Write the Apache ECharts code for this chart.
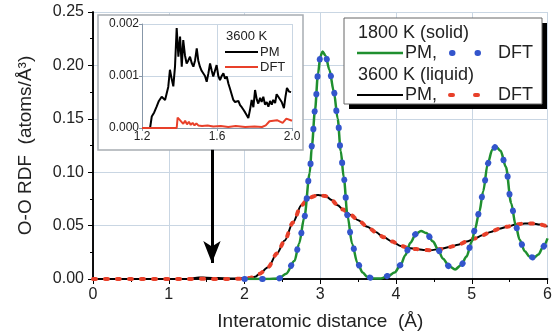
<!DOCTYPE html>
<html><head><meta charset="utf-8">
<script src="https://cdn.jsdelivr.net/npm/echarts@6/dist/echarts.min.js"></script>
<style>html,body{margin:0;padding:0;background:#fff}#c{width:555px;height:336px}</style>
</head><body><div id="c"></div>
<script>
// ---- main chart: 1800 K solid ----
const solidX   = [2.0, 2.3, 2.45, 2.55, 2.66, 2.72, 2.79, 2.86, 2.89, 2.93, 2.97, 3.0, 3.03, 3.07, 3.12, 3.18, 3.23, 3.27, 3.31, 3.36, 3.42, 3.49, 3.56, 3.62, 3.7, 3.8, 3.9, 3.98, 4.06, 4.12, 4.19, 4.26, 4.33, 4.4, 4.49, 4.55, 4.62, 4.7, 4.78, 4.86, 4.93, 5.0, 5.04, 5.1, 5.15, 5.21, 5.27, 5.32, 5.38, 5.45, 5.52, 5.58, 5.63, 5.7, 5.76, 5.82, 5.88, 5.94, 6.0];
const solidPM  = [0, 0, 0.0005, 0.005, 0.017, 0.033, 0.058, 0.099, 0.125, 0.158, 0.192, 0.208, 0.213, 0.209, 0.196, 0.175, 0.150, 0.120, 0.095, 0.059, 0.033, 0.015, 0.006, 0.002, 0.0005, 0.0005, 0.003, 0.006, 0.013, 0.022, 0.034, 0.042, 0.045, 0.043, 0.035, 0.028, 0.019, 0.012, 0.009, 0.013, 0.021, 0.035, 0.046, 0.063, 0.082, 0.108, 0.121, 0.124, 0.120, 0.105, 0.071, 0.050, 0.037, 0.026, 0.021, 0.020, 0.023, 0.030, 0.038];
const solidDFT = [0, 0, 0.0005, 0.005, 0.017, 0.033, 0.058, 0.099, 0.125, 0.158, 0.192, 0.208, 0.213, 0.209, 0.196, 0.175, 0.150, 0.120, 0.095, 0.059, 0.033, 0.015, 0.006, 0.002, 0.0005, 0.0005, 0.003, 0.006, 0.013, 0.022, 0.034, 0.042, 0.045, 0.043, 0.035, 0.028, 0.019, 0.012, 0.009, 0.013, 0.021, 0.035, 0.046, 0.063, 0.082, 0.108, 0.121, 0.124, 0.120, 0.105, 0.071, 0.050, 0.037, 0.026, 0.021, 0.020, 0.023, 0.030, 0.038];
// ---- main chart: 3600 K liquid ----
const liquidX   = [0, 1.25, 1.4, 1.5, 1.65, 1.8, 1.95, 2.05, 2.14, 2.2, 2.31, 2.43, 2.53, 2.64, 2.75, 2.85, 2.97, 3.07, 3.15, 3.23, 3.3, 3.4, 3.5, 3.62, 3.73, 3.84, 3.95, 4.06, 4.17, 4.27, 4.36, 4.45, 4.58, 4.71, 4.82, 4.93, 5.04, 5.14, 5.25, 5.36, 5.47, 5.58, 5.7, 5.8, 5.9, 6.0];
const liquidPM  = [0, 0, 0.0015, 0.0012, 0.0009, 0.0004, 0.0006, 0.001, 0.002, 0.005, 0.011, 0.024, 0.036, 0.053, 0.069, 0.076, 0.0786, 0.0776, 0.074, 0.069, 0.065, 0.060, 0.055, 0.049, 0.044, 0.039, 0.035, 0.031, 0.029, 0.028, 0.0272, 0.027, 0.028, 0.030, 0.032, 0.035, 0.038, 0.041, 0.044, 0.047, 0.049, 0.051, 0.052, 0.052, 0.051, 0.049];
const liquidDFT = [0, 0, 0.0002, 0.0001, 0.0001, 0.0001, 0.0002, 0.0008, 0.002, 0.005, 0.011, 0.024, 0.036, 0.053, 0.069, 0.076, 0.0786, 0.0776, 0.074, 0.069, 0.065, 0.060, 0.055, 0.049, 0.044, 0.039, 0.035, 0.031, 0.029, 0.028, 0.0272, 0.027, 0.028, 0.030, 0.032, 0.035, 0.038, 0.041, 0.044, 0.047, 0.049, 0.051, 0.052, 0.052, 0.051, 0.049];
// ---- inset: 3600 K, 1.2 - 2.0 A ----
const insetX  = [1.2, 1.243, 1.252, 1.265, 1.278, 1.29, 1.305, 1.323, 1.34, 1.349, 1.358, 1.367, 1.376, 1.385, 1.394, 1.403, 1.412, 1.42, 1.429, 1.438, 1.447, 1.456, 1.465, 1.474, 1.483, 1.492, 1.5, 1.509, 1.518, 1.527, 1.536, 1.545, 1.554, 1.563, 1.572, 1.58, 1.589, 1.598, 1.607, 1.616, 1.625, 1.634, 1.643, 1.652, 1.661, 1.669, 1.678, 1.687, 1.696, 1.705, 1.714, 1.723, 1.732, 1.741, 1.75, 1.758, 1.767, 1.776, 1.785, 1.794, 1.803, 1.812, 1.82, 1.83, 1.838, 1.847, 1.856, 1.865, 1.874, 1.883, 1.892, 1.9, 1.91, 1.918, 1.927, 1.936, 1.945, 1.957, 1.965, 1.973, 1.984, 1.995];
const insetPM = [0, 0, 0.00022, 0.0003, 0.00041, 0.00052, 0.0006, 0.00054, 0.00079, 0.00112, 0.00095, 0.0008, 0.00118, 0.00192, 0.00137, 0.00176, 0.00118, 0.00169, 0.0014, 0.00124, 0.0013, 0.00137, 0.00125, 0.00118, 0.0013, 0.00153, 0.0013, 0.00118, 0.0011, 0.00112, 0.001, 0.00089, 0.00105, 0.00124, 0.0011, 0.00099, 0.0011, 0.00121, 0.001, 0.00092, 0.001, 0.00105, 0.00095, 0.00099, 0.00085, 0.00076, 0.00065, 0.00054, 0.0005, 0.00047, 0.00052, 0.00044, 0.0004, 0.00035, 0.0003, 0.00025, 0.00019, 0.00035, 0.00054, 0.0004, 0.00073, 0.00055, 0.00047, 0.00058, 0.0005, 0.0006, 0.00045, 0.0005, 0.00041, 0.00052, 0.00045, 0.00054, 0.00048, 0.00065, 0.0006, 0.00063, 0.0005, 0.00038, 0.0006, 0.00077, 0.0007, 0.00069];
const insetDftX = [1.2, 1.385, 1.39, 1.40, 1.41, 1.42, 1.43, 1.44, 1.45, 1.46, 1.47, 1.48, 1.49, 1.50, 1.52, 1.55, 1.58, 1.62, 1.66, 1.70, 1.75, 1.80, 1.84, 1.86, 1.88, 1.92, 1.95, 1.97, 2.0];
const insetDFT  = [0, 0, 0.0002, 0.00016, 0.00017, 0.00008, 0.00014, 0.00007, 0.00012, 0.00006, 0.0001, 0.00005, 0.00009, 0.00005, 0.00004, 0.00005, 0.00003, 0.00004, 0.00002, 0.00004, 0.00002, 0.00003, 0.00002, 0.00005, 0.00013, 0.00015, 0.0001, 0.00018, 0.00014];
// arrow annotation (data coordinates)
const arrowX = 1.57, arrowFrom = 0.121, arrowTo = 0.015;

const zip = (xs, ys) => xs.map((x, i) => [x, ys[i]]);
const FF = 'Liberation Sans, Arial, sans-serif';
const gridCol = '#c9d6e3';

const chart = echarts.init(document.getElementById('c'));
chart.setOption({
  animation: false,
  backgroundColor: '#fff',
  grid: [
    {left: 93, right: 3, top: 12, bottom: 57},
    {left: 142, top: 24, width: 150, height: 104}
  ],
  xAxis: [
    {gridIndex: 0, type: 'value', min: 0, max: 6, interval: 1, position: 'bottom',
     axisLine: {lineStyle: {color: '#000', width: 1.5}},
     axisTick: {show: true, inside: false, length: 5, lineStyle: {color: '#000'}},
     minorTick: {show: true, splitNumber: 2, length: 3, lineStyle: {color: '#000'}},
     splitLine: {show: true, lineStyle: {color: gridCol, width: 1}},
     axisLabel: {fontSize: 16, color: '#222', fontFamily: FF, margin: 8},
     name: 'Interatomic distance  (\u00C5)', nameLocation: 'middle', nameGap: 33,
     nameTextStyle: {fontSize: 19, color: '#222', fontFamily: FF}},
    {gridIndex: 0, type: 'value', min: 0, max: 6, interval: 1, position: 'top',
     axisLine: {lineStyle: {color: '#000', width: 1.5}},
     axisTick: {show: true, inside: true, length: 4, lineStyle: {color: '#000'}},
     minorTick: {show: true, splitNumber: 2, length: 2, lineStyle: {color: '#000'}},
     splitLine: {show: false}, axisLabel: {show: false}},
    {gridIndex: 1, type: 'value', min: 1.2, max: 2.0, interval: 0.4, z: 5,
     axisLine: {lineStyle: {color: '#8797a8', width: 1}},
     axisTick: {show: true, length: 3, lineStyle: {color: '#8797a8'}},
     splitLine: {show: true, lineStyle: {color: gridCol, width: 1}},
     axisLabel: {fontSize: 12, color: '#222', fontFamily: FF, margin: 3,
                 formatter: v => v.toFixed(1)}}
  ],
  yAxis: [
    {gridIndex: 0, type: 'value', min: 0, max: 0.25, interval: 0.05, position: 'left',
     axisLine: {show: true, lineStyle: {color: '#000', width: 1.5}},
     axisTick: {show: true, inside: false, length: 5, lineStyle: {color: '#000'}},
     minorTick: {show: true, splitNumber: 2, length: 3, lineStyle: {color: '#000'}},
     splitLine: {show: true, lineStyle: {color: gridCol, width: 1}},
     axisLabel: {fontSize: 16, color: '#222', fontFamily: FF, margin: 9,
                 formatter: v => v.toFixed(2)},
     name: 'O-O RDF  (atoms/\u00C5\u00B3)', nameLocation: 'middle', nameGap: 58,
     nameTextStyle: {fontSize: 19, color: '#222', fontFamily: FF}},
    {gridIndex: 0, type: 'value', min: 0, max: 0.25, interval: 0.05, position: 'right',
     axisLine: {show: true, lineStyle: {color: '#000', width: 1.5}},
     axisTick: {show: true, inside: true, length: 4, lineStyle: {color: '#000'}},
     minorTick: {show: true, splitNumber: 2, length: 2, lineStyle: {color: '#000'}},
     splitLine: {show: false}, axisLabel: {show: false}},
    {gridIndex: 1, type: 'value', min: 0, max: 0.002, interval: 0.001, z: 5,
     axisLine: {show: true, lineStyle: {color: '#8797a8', width: 1}},
     axisTick: {show: true, length: 3, lineStyle: {color: '#8797a8'}},
     splitLine: {show: true, lineStyle: {color: gridCol, width: 1}},
     axisLabel: {fontSize: 12, color: '#222', fontFamily: FF, margin: 3,
                 formatter: v => v.toFixed(3)}}
  ],
  series: [
    {name: 'liquid PM', type: 'line', xAxisIndex: 0, yAxisIndex: 0, data: zip(liquidX, liquidPM),
     showSymbol: false, smooth: 0.3, smoothMonotone: 'x',
     lineStyle: {color: '#000', width: 2}, z: 2,
     markLine: {silent: true, symbol: ['none', 'arrow'], symbolSize: [13, 22],
       label: {show: false}, lineStyle: {color: '#000', width: 3, type: 'solid'},
       data: [[{coord: [arrowX, arrowFrom]}, {coord: [arrowX, arrowTo]}]]}},
    {name: 'liquid DFT', type: 'line', xAxisIndex: 0, yAxisIndex: 0, data: zip(liquidX, liquidDFT),
     showSymbol: false, smooth: 0.3, smoothMonotone: 'x',
     lineStyle: {color: '#e8402a', width: 4, type: [3, 9], cap: 'round'}, z: 2},
    {name: 'solid PM', type: 'line', xAxisIndex: 0, yAxisIndex: 0, data: zip(solidX, solidPM),
     showSymbol: false, smooth: 0.3, smoothMonotone: 'x',
     lineStyle: {color: '#1f8f2f', width: 2.5}, z: 2},
    {name: 'solid DFT', type: 'line', xAxisIndex: 0, yAxisIndex: 0, data: zip(solidX, solidDFT),
     showSymbol: false, smooth: 0.3, smoothMonotone: 'x',
     lineStyle: {color: '#3355cc', width: 6, type: [0.5, 17], cap: 'round'}, z: 2},
    {name: 'inset PM', type: 'line', xAxisIndex: 2, yAxisIndex: 2, data: zip(insetX, insetPM),
     showSymbol: false, lineStyle: {color: '#000', width: 2}, z: 6},
    {name: 'inset DFT', type: 'line', xAxisIndex: 2, yAxisIndex: 2, data: zip(insetDftX, insetDFT),
     showSymbol: false, lineStyle: {color: '#e8402a', width: 2}, z: 6}
  ],
  graphic: [
    // inset frame
    {type: 'rect', z: 4, shape: {x: 98, y: 15, width: 205, height: 135},
     style: {fill: '#fff', stroke: '#a8adb3', lineWidth: 1.5}},
    // inset legend
    {type: 'text', z: 7, style: {x: 226, y: 36, text: '3600 K', font: '13px ' + FF, fill: '#222', textVerticalAlign: 'middle'}},
    {type: 'line', z: 7, shape: {x1: 225, y1: 52, x2: 258, y2: 52}, style: {stroke: '#000', lineWidth: 2}},
    {type: 'text', z: 7, style: {x: 260, y: 52, text: 'PM', font: '13px ' + FF, fill: '#222', textVerticalAlign: 'middle'}},
    {type: 'line', z: 7, shape: {x1: 225, y1: 67, x2: 258, y2: 67}, style: {stroke: '#e8402a', lineWidth: 2}},
    {type: 'text', z: 7, style: {x: 260, y: 67, text: 'DFT', font: '13px ' + FF, fill: '#222', textVerticalAlign: 'middle'}},
    // main legend box with shadow
    {type: 'rect', z: 9, shape: {x: 349, y: 23, width: 198, height: 86}, style: {fill: '#000'}},
    {type: 'rect', z: 10, shape: {x: 344, y: 18, width: 198, height: 86}, style: {fill: '#fff', stroke: '#666', lineWidth: 1}},
    {type: 'text', z: 11, style: {x: 358, y: 33, text: '1800 K (solid)', font: '18px ' + FF, fill: '#222', textVerticalAlign: 'middle'}},
    {type: 'line', z: 11, shape: {x1: 357, y1: 53, x2: 403, y2: 53}, style: {stroke: '#1f8f2f', lineWidth: 2.5}},
    {type: 'text', z: 11, style: {x: 405, y: 53, text: 'PM,', font: '18px ' + FF, fill: '#222', textVerticalAlign: 'middle'}},
    {type: 'line', z: 11, shape: {x1: 452, y1: 53, x2: 478, y2: 53}, style: {stroke: '#3355cc', lineWidth: 6, lineDash: [0.5, 25], lineCap: 'round'}},
    {type: 'text', z: 11, style: {x: 498, y: 53, text: 'DFT', font: '18px ' + FF, fill: '#222', textVerticalAlign: 'middle'}},
    {type: 'text', z: 11, style: {x: 358, y: 75, text: '3600 K (liquid)', font: '18px ' + FF, fill: '#222', textVerticalAlign: 'middle'}},
    {type: 'line', z: 11, shape: {x1: 357, y1: 95, x2: 403, y2: 95}, style: {stroke: '#000', lineWidth: 2}},
    {type: 'text', z: 11, style: {x: 405, y: 95, text: 'PM,', font: '18px ' + FF, fill: '#222', textVerticalAlign: 'middle'}},
    {type: 'line', z: 11, shape: {x1: 450, y1: 95, x2: 480, y2: 95}, style: {stroke: '#e8402a', lineWidth: 4, lineDash: [3, 22], lineCap: 'round'}},
    {type: 'text', z: 11, style: {x: 498, y: 95, text: 'DFT', font: '18px ' + FF, fill: '#222', textVerticalAlign: 'middle'}}
  ]
});
</script>
</body></html>
